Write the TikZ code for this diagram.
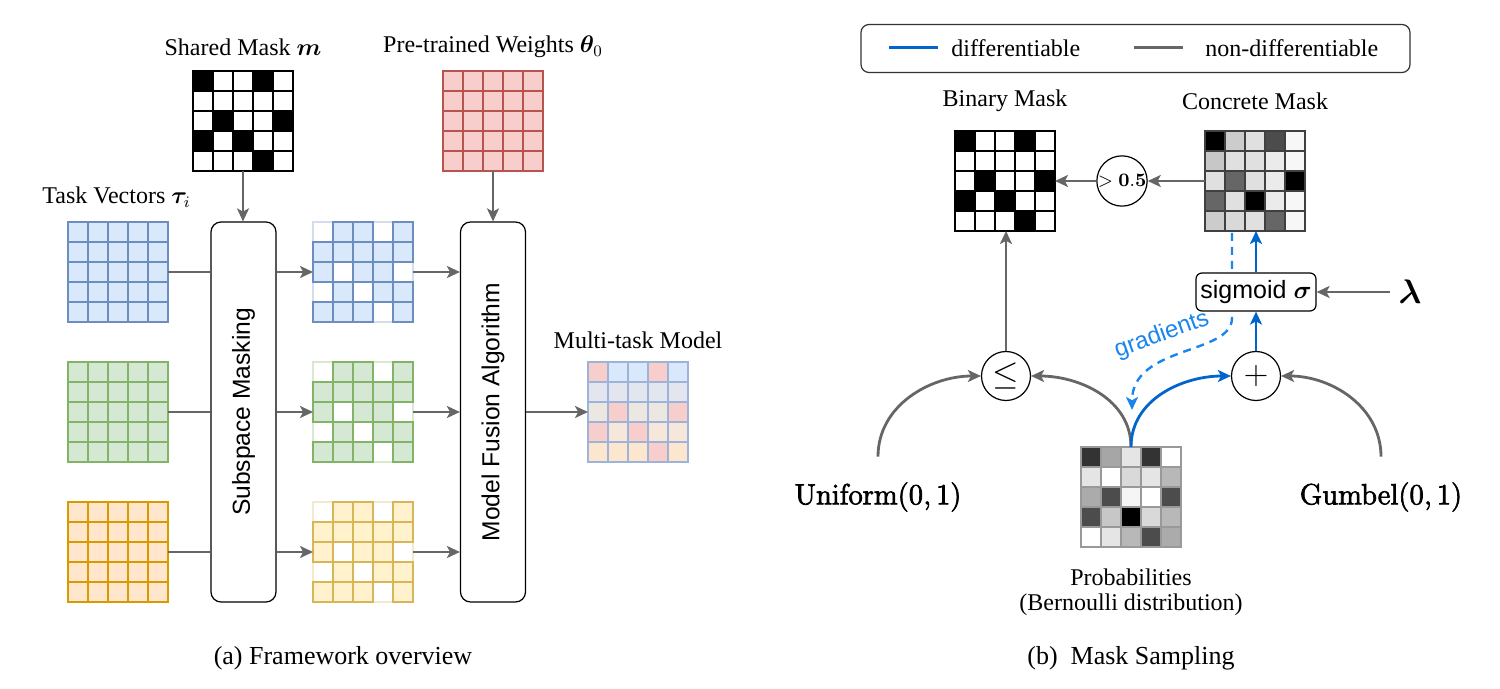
\RequirePackage{fix-cm}
\documentclass[tikz,border=0pt]{standalone}
\usepackage{amsmath,bm}
\usepackage[no-math]{fontspec}
\setmainfont{Liberation Serif}
\setsansfont{Liberation Sans}
\usetikzlibrary{arrows.meta,calc}

\definecolor{cgray}{HTML}{666666}
\definecolor{cblue}{HTML}{0066CC}
\definecolor{cgrad}{HTML}{1A85EE}
\definecolor{bf}{HTML}{DAE8FC}\definecolor{bs}{HTML}{6C8EBF}
\definecolor{gf}{HTML}{D5E8D4}\definecolor{gs}{HTML}{82B366}
\definecolor{of}{HTML}{FFE6CC}\definecolor{os}{HTML}{D79B00}
\definecolor{yf}{HTML}{FFF2CC}\definecolor{ys}{HTML}{D6B656}
\definecolor{pf}{HTML}{F8CECC}\definecolor{ps}{HTML}{B85450}
\definecolor{mA}{HTML}{DAE8FC}\definecolor{mB}{HTML}{E3E6EE}
\definecolor{mC}{HTML}{EDE7E2}\definecolor{mD}{HTML}{F5E8DA}
\definecolor{mE}{HTML}{FCE6CE}\definecolor{mS}{HTML}{9DB3D9}

\def\maskpat{1,0,0,1,0,0,0,0,0,0,0,1,0,0,1,1,0,1,0,0,0,0,0,1,0}

\newcommand{\heavytext}[1]{\special{pdf:literal direct 2 Tr 0.35 w}#1\special{pdf:literal direct 0 Tr}}
\newcommand{\uniflabel}{\heavytext{\ensuremath{\mathrm{Uniform}(0,1)}}}
\newcommand{\gumlabel}{\heavytext{\ensuremath{\mathrm{Gumbel}(0,1)}}}

\newcommand{\cellpos}{%
  \pgfmathtruncatemacro{\cc}{mod(\k,5)}%
  \pgfmathtruncatemacro{\rr}{(\k-\cc)/5}}

\newcommand{\bwgrid}[2]{%
  \foreach \v [count=\k from 0] in \maskpat {%
    \cellpos
    \ifnum\v=1 \def\fc{black}\else\def\fc{white}\fi
    \filldraw[fill=\fc, draw=black, line width=0.6pt] ({#1+20*\cc},{#2+20*\rr}) rectangle ++(20,20);
  }}

\newcommand{\fullgrid}[4]{%
  \foreach \k in {0,...,24} {%
    \cellpos
    \filldraw[fill=#3, draw=#4, line width=0.6pt] ({#1+20*\cc},{#2+20*\rr}) rectangle ++(20,20);
  }}

\newcommand{\maskgrid}[4]{%
  \foreach \v [count=\k from 0] in \maskpat {%
    \cellpos
    \ifnum\v=1 \filldraw[fill=white, draw=#4!30, line width=0.6pt] ({#1+20*\cc},{#2+20*\rr}) rectangle ++(20,20);\fi
  }
  \foreach \v [count=\k from 0] in \maskpat {%
    \cellpos
    \ifnum\v=0 \filldraw[fill=#3, draw=#4, line width=0.6pt] ({#1+20*\cc},{#2+20*\rr}) rectangle ++(20,20);\fi
  }}

\newcommand{\colgrid}[4]{%
  \foreach \v [count=\k from 0] in {#4} {%
    \cellpos
    \filldraw[fill=\v, draw=#3, line width=0.6pt] ({#1+20*\cc},{#2+20*\rr}) rectangle ++(20,20);
  }}

\newcommand{\graygrid}[4]{%
  \foreach \v [count=\k from 0] in {#4} {%
    \cellpos
    \filldraw[fill=black!\v, draw=#3, line width=0.6pt] ({#1+20*\cc},{#2+20*\rr}) rectangle ++(20,20);
  }}

\begin{document}
\begin{tikzpicture}[x=0.5pt,y=-0.5pt,
  font=\fontsize{12}{14}\selectfont,
  conn/.style={draw=cgray, line width=1.4pt, -{Stealth[length=6.5pt,width=6pt,inset=1.6pt]}},
  plainline/.style={draw=cgray, line width=1.4pt},
  dconn/.style={draw=cblue, line width=1.4pt, -{Stealth[length=6.5pt,width=6pt,inset=1.6pt]}},
  gradline/.style={draw=cgrad, line width=1.2pt, dash pattern=on 4pt off 3pt, -{Stealth[length=6.5pt,width=6pt,inset=1.6pt]}},
  tallbox/.style={draw=black, rounded corners=5pt, fill=white, minimum width=32.5pt, minimum height=190pt, inner sep=0pt, line width=0.6pt, font=\sffamily\fontsize{12.3}{14}\selectfont},
  gridnode/.style={minimum size=50pt, inner sep=0pt, outer sep=0pt},
  circ/.style={circle, draw=black, fill=white, line width=0.6pt, inner sep=0pt},
  lbl/.style={inner sep=0pt},
  caption/.style={inner sep=0pt, font=\fontsize{13}{15}\selectfont},
  bigmath/.style={inner sep=0pt, minimum height=40pt, text=black, font=\fontsize{14.6}{16}\selectfont}
]
\useasboundingbox (0,0) rectangle (1500,689);

% ---------------- (a) ----------------
\node[lbl] (tsm) at (243,47) {Shared Mask $\bm{m}$};
\node[lbl] (tpw) at (493,47) {Pre-trained Weights $\bm{\theta}_0$};
\node[lbl, anchor=west] (ttv) at (42,197) {Task Vectors $\bm{\tau}_i$};
\node[lbl] (tmt) at (638,340) {Multi-task Model};
\node[caption] (capa) at (343,658) {(a) Framework overview};

\node[gridnode] (sm) at (243,121) {};
\bwgrid{193}{71}
\node[gridnode] (pw) at (493,121) {};
\fullgrid{443}{71}{pf}{ps}

\node[tallbox] (ss) at (243.5,412) {\rotatebox{90}{Subspace Masking}};
\node[tallbox] (mf) at (493,412) {\rotatebox{90}{Model Fusion Algorithm}};

\node[gridnode] (tv1) at (118,272) {};
\fullgrid{68}{222}{bf}{bs}
\node[gridnode] (tv2) at (118,412) {};
\fullgrid{68}{362}{gf}{gs}
\node[gridnode] (tv3) at (118,552) {};
\fullgrid{68}{502}{of}{os}

\node[gridnode] (mg1) at (363,272) {};
\maskgrid{313}{222}{bf}{bs}
\node[gridnode] (mg2) at (363,412) {};
\maskgrid{313}{362}{gf}{gs}
\node[gridnode] (mg3) at (363,552) {};
\maskgrid{313}{502}{yf}{ys}

\node[gridnode] (mt) at (638,412) {};
\colgrid{588}{362}{mS}{pf,mA,mA,pf,mA, mB,mB,mB,mB,mB, mC,pf,mC,mC,pf, pf,mD,pf,mD,mD, mE,mE,mE,pf,mE}

\draw[conn] (sm.south) -- (sm.south |- ss.north);
\draw[conn] (pw.south) -- (pw.south |- mf.north);
\foreach \i in {1,2,3} {
  \draw[plainline] (tv\i.east) -- (tv\i.east -| ss.west);
  \draw[conn] (ss.east |- mg\i.west) -- (mg\i.west);
  \draw[conn] (mg\i.east) -- (mg\i.east -| mf.west);
}
\draw[conn] (mf.east |- mt.west) -- (mt.west);

% ---------------- (b) ----------------
\node[draw=black!80, rounded corners=4pt, minimum width=274.5pt, minimum height=24pt, line width=0.6pt, inner sep=0pt] (leg) at (1135.5,48.5) {};
\draw[cblue, line width=1.5pt] (889,48) -- (938,48);
\node[lbl, anchor=west] (l1) at (951,48) {differentiable};
\draw[cgray, line width=1.5pt] (1134,48) -- (1183,48);
\node[lbl, anchor=west] (l2) at (1205,48) {non-differentiable};

\node[lbl] (tbm) at (1005,101) {Binary Mask};
\node[lbl] (tcm) at (1255,101) {Concrete Mask};

\node[gridnode] (bm) at (1005,181) {};
\bwgrid{955}{131}
\node[gridnode] (cm) at (1255,181) {};
\graygrid{1205}{131}{black!75}{100,20,12,70,3, 22,12,12,8,3, 12,60,12,8,100, 60,12,100,8,3, 20,15,12,60,3}

\node[circ, minimum size=17pt, font=\fontsize{9.5}{11}\selectfont] (gt) at (1122,181) {$>\mathbf{0.5}$};
\draw[conn] (cm.west) -- (gt.east);
\draw[conn] (gt.west) -- (bm.east);

\node[gridnode] (pg) at (1131,497) {};
\graygrid{1081}{447}{black!40}{80,35,10,80,0, 10,0,15,10,28, 33,70,4,0,70, 70,22,100,15,28, 0,10,28,70,33}
\node[lbl, align=center, font=\fontsize{12}{12.5}\selectfont] (tpg) at (1131,592) {Probabilities\\(Bernoulli distribution)};

\node[circ, minimum size=24.5pt, font=\fontsize{17}{18}\selectfont] (le) at (1006,376) {$\le$};
\node[circ, minimum size=24.5pt, font=\fontsize{17}{18}\selectfont] (plus) at (1256,376) {$+$};

\node[bigmath] (unif) at (878,497) {\uniflabel};
\node[bigmath] (gum) at (1381,497) {\gumlabel};

% gradient dashed path (behind sigmoid box)
\coordinate (gend) at (1132,410);
\draw[gradline] ($(cm.south)+(-23,2)$) -- (1232,318) .. controls (1232,355) and (1132,345) .. (gend);
\node[lbl, rotate=20, text=cgrad, font=\sffamily\fontsize{12}{13}\selectfont] (tgr) at (1162,335) {gradients};

\node[draw=black, fill=white, rounded corners=3pt, line width=0.6pt, minimum width=60pt, minimum height=19pt, inner sep=0pt, font=\sffamily\fontsize{12.5}{14}\selectfont] (sig) at (1256,292) {sigmoid $\bm{\sigma}$};
\node[lbl, font=\fontsize{17}{18}\selectfont] (lam) at (1410,292) {$\bm{\lambda}$};

\draw[conn] (le.north) -- (le.north |- bm.south);
\draw[conn] (lam.west) ++(-8,0) -- (sig.east);
\draw[conn] (unif.north) to[out=90,in=180] (le.west);
\draw[conn] (pg.north) to[out=90,in=0] (le.east);
\draw[conn] (gum.north) to[out=90,in=0] (plus.east);
\draw[dconn] (pg.north) to[out=90,in=180] (plus.west);
\draw[dconn] (plus.north) -- (sig.south);
\draw[dconn] (sig.north) -- (sig.north |- cm.south);

\node[caption] (capb) at (1131,658) {(b)\ \ Mask Sampling};
\end{tikzpicture}
\end{document}
